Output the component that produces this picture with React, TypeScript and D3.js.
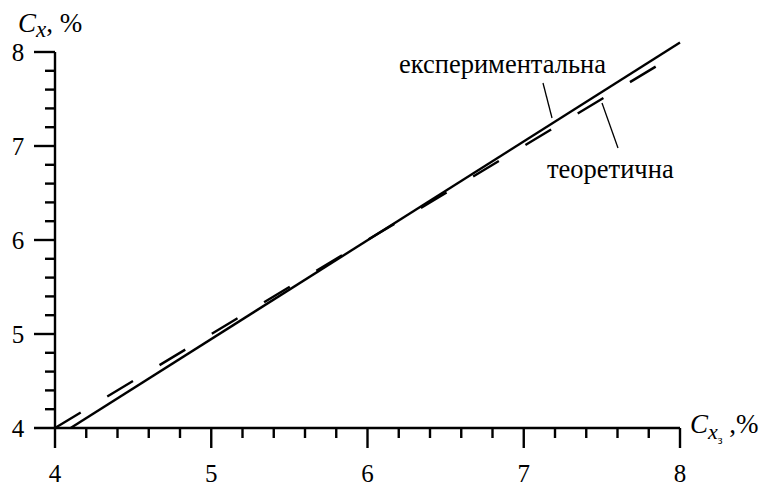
import * as d3 from "d3";

// values (both axes in %)
const majorTicks = [4, 5, 6, 7, 8];
const minorTicks = [4.2, 4.4, 4.6, 4.8, 5.2, 5.4, 5.6, 5.8, 6.2, 6.4, 6.6, 6.8, 7.2, 7.4, 7.6, 7.8];
const experimentalX = [4.1, 8.0];
const experimentalY = [4.0, 8.1];
const theoreticalX = [4.0, 7.95];
const theoreticalY = [4.0, 7.95];

const WIDTH = 762;
const HEIGHT = 486;
const FONT = "Liberation Serif";

const x = d3.scaleLinear().domain([4, 8]).range([55, 680]);
const y = d3.scaleLinear().domain([4, 8]).range([428, 52]);

const line = d3
  .line<[number, number]>()
  .x((d) => x(d[0]))
  .y((d) => y(d[1]));

const App = () => {
  const x0 = x(4);
  const y0 = y(4);
  const expPts = experimentalX.map((d, i) => [d, experimentalY[i]] as [number, number]);
  const theoPts = theoreticalX.map((d, i) => [d, theoreticalY[i]] as [number, number]);

  return (
    <div style={{ position: "absolute", left: 0, top: 0, background: "#fff" }}>
      <svg width={WIDTH} height={HEIGHT} style={{ display: "block", fontFamily: FONT }}>
        <g stroke="#000" strokeWidth={2.4} fill="none">
          {/* axes stick out past the origin */}
          <line x1={x0 - 21} x2={x(8)} y1={y0} y2={y0} />
          <line x1={x0} x2={x0} y1={y(8)} y2={y0 + 20} />
          {majorTicks.slice(1).map((d) => (
            <line key={"xM" + d} x1={x(d)} x2={x(d)} y1={y0} y2={y0 + 20} />
          ))}
          {minorTicks.map((d) => (
            <line key={"xm" + d} x1={x(d)} x2={x(d)} y1={y0} y2={y0 + 10} />
          ))}
          {majorTicks.slice(1).map((d) => (
            <line key={"yM" + d} x1={x0 - 21} x2={x0} y1={y(d)} y2={y(d)} />
          ))}
          {minorTicks.map((d) => (
            <line key={"ym" + d} x1={x0 - 10} x2={x0} y1={y(d)} y2={y(d)} />
          ))}
        </g>

        <g style={{ fontFamily: FONT, fontSize: 25 }} fill="#000">
          {majorTicks.map((d) => (
            <text key={"xl" + d} x={x(d)} y={y0 + 54} textAnchor="middle">
              {d}
            </text>
          ))}
          {majorTicks.map((d) => (
            <text key={"yl" + d} x={18} y={y(d) + 9} textAnchor="middle">
              {d}
            </text>
          ))}
        </g>

        {/* axis titles */}
        <text x={18} y={32} style={{ fontFamily: FONT, fontSize: 27 }}>
          <tspan style={{ fontStyle: "italic" }}>C</tspan>
          <tspan style={{ fontStyle: "italic", fontSize: 23 }} dy={5}>
            x
          </tspan>
          <tspan dy={-5}>, %</tspan>
        </text>
        <text x={690} y={433} style={{ fontFamily: FONT, fontSize: 27 }}>
          <tspan style={{ fontStyle: "italic" }}>C</tspan>
          <tspan style={{ fontStyle: "italic", fontSize: 22 }} dy={6}>
            x
          </tspan>
          <tspan style={{ fontSize: 12 }} dy={5}>
            з
          </tspan>
          <tspan dy={-11}> ,%</tspan>
        </text>

        {/* curves */}
        <path d={line(theoPts) ?? ""} fill="none" stroke="#000" strokeWidth={2.4} strokeDasharray="30 31" />
        <path d={line(expPts) ?? ""} fill="none" stroke="#000" strokeWidth={2.4} />

        {/* curve labels */}
        <g style={{ fontFamily: FONT, fontSize: 26.5 }} fill="#000">
          <text x={399} y={73}>експериментальна</text>
          <text x={547} y={178}>теоретична</text>
        </g>
        <line x1={543} y1={83} x2={552} y2={118} stroke="#000" strokeWidth={1.3} />
        <line x1={602} y1={103} x2={618} y2={148} stroke="#000" strokeWidth={1.3} />
      </svg>
    </div>
  );
};

export default App;
